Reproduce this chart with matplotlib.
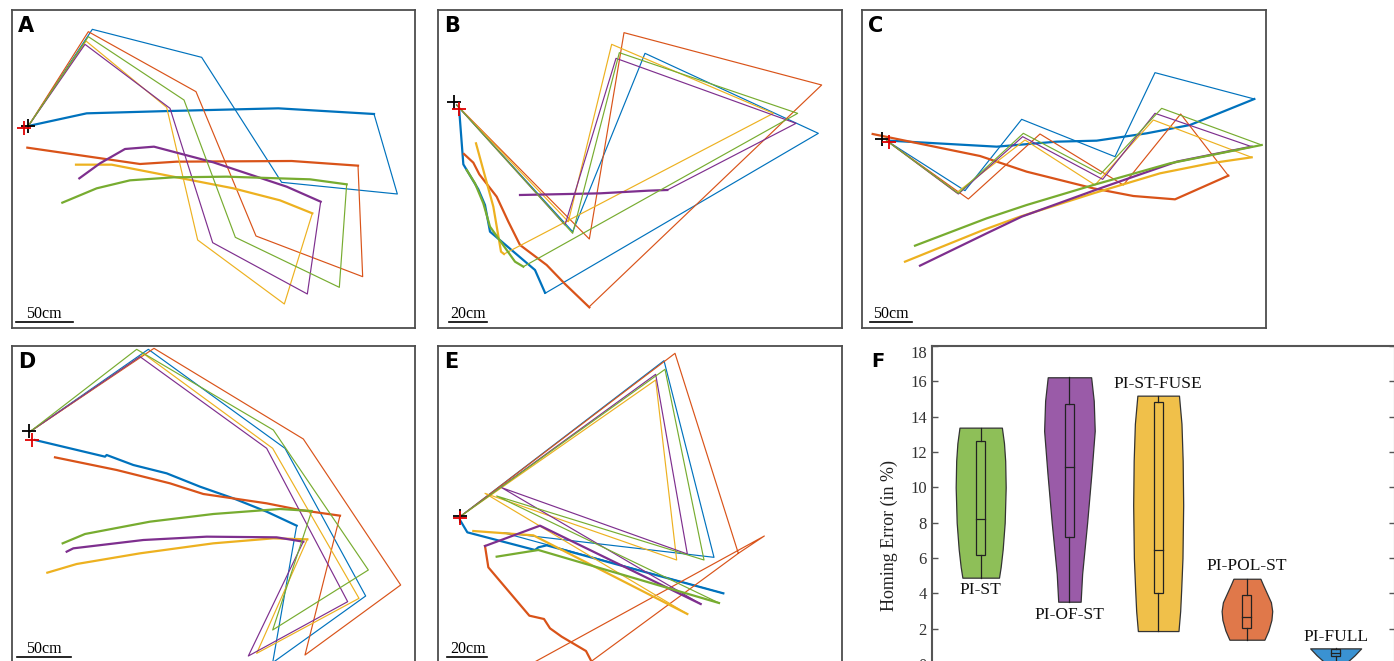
import matplotlib.pyplot as plt
from matplotlib.patches import Rectangle

plt.rcParams['font.family'] = ['Liberation Serif', 'DejaVu Serif']

W, H = 1394, 661  # figure size in px

# blue, orange, yellow, purple, green (one trajectory per agent)
agent_colors = ['#0072BD', '#D95319', '#EDB120', '#7E2F8E', '#77AC30']

# trajectories, in picture units (3 units = 1 px)
# *_out = outbound route (thin), *_ret = homing route (thick)
A_out = [
    [(85, 378), (277, 88), (605, 172), (845, 547), (1192, 582), (1122, 342)],
    [(85, 378), (265, 95), (588, 275), (768, 708), (1088, 830), (1074, 497)],
    [(85, 378), (258, 123), (500, 322), (593, 720), (853, 912), (937, 640)],
    [(85, 378), (255, 133), (510, 325), (638, 728), (922, 882), (962, 605)],
    [(85, 378), (265, 110), (552, 300), (706, 712), (1018, 862), (1040, 553)],
]
A_ret = [
    [(1122, 342), (835, 325), (508, 333), (260, 340), (85, 378)],
    [(1074, 497), (875, 483), (530, 485), (420, 492), (82, 443)],
    [(937, 640), (840, 601), (700, 565), (520, 530), (335, 494), (228, 494)],
    [(962, 605), (860, 560), (640, 487), (462, 440), (375, 447), (300, 490), (238, 535)],
    [(1040, 553), (930, 538), (680, 530), (520, 532), (390, 541), (290, 565), (187, 608)],
]

B_out = [
    [(80, 315), (428, 695), (645, 160), (1165, 400), (345, 880)],
    [(80, 315), (478, 717), (582, 98), (1175, 255), (478, 920)],
    [(80, 315), (415, 665), (545, 133), (1030, 340), (222, 762)],
    [(80, 315), (405, 675), (558, 175), (1098, 370), (712, 570)],
    [(80, 315), (428, 700), (568, 158), (1103, 340), (280, 800)],
]
B_ret = [
    [(345, 878), (315, 810), (180, 695), (165, 615), (145, 568), (100, 493), (88, 335)],
    [(478, 922), (405, 852), (350, 795), (270, 735), (235, 665), (200, 590), (148, 523), (130, 488), (102, 462)],
    [(222, 762), (213, 755), (190, 620), (138, 430)],
    [(712, 570), (655, 572), (510, 580), (270, 585)],
    [(280, 800), (255, 785), (180, 680), (160, 610), (135, 550), (110, 510)],
]

C_out = [
    [(80, 422), (315, 572), (485, 358), (765, 470), (885, 218), (1183, 297)],
    [(80, 422), (325, 597), (540, 402), (790, 555), (962, 342), (1105, 527)],
    [(80, 422), (290, 578), (495, 420), (705, 555), (880, 360), (1175, 472)],
    [(80, 422), (295, 582), (488, 410), (728, 538), (885, 340), (1175, 440)],
    [(80, 422), (295, 580), (490, 400), (722, 522), (905, 325), (1205, 435)],
]
C_ret = [
    [(1183, 297), (990, 375), (860, 400), (710, 422), (590, 425), (410, 440), (88, 422)],
    [(1105, 527), (945, 598), (820, 588), (700, 565), (500, 515), (360, 468), (38, 402)],
    [(1175, 472), (1050, 490), (900, 520), (700, 580), (480, 650), (370, 690), (135, 785)],
    [(1175, 440), (950, 485), (720, 565), (485, 650), (380, 700), (180, 797)],
    [(1205, 435), (930, 490), (700, 555), (500, 615), (380, 655), (165, 737)],
]

D_out = [
    [(90, 275), (445, 28), (855, 325), (1097, 768), (818, 968), (890, 557)],
    [(90, 275), (462, 25), (910, 297), (1202, 735), (915, 945), (1020, 527)],
    [(90, 275), (432, 42), (818, 325), (1077, 775), (770, 940), (922, 598)],
    [(90, 275), (420, 50), (800, 325), (1043, 785), (745, 948), (910, 605)],
    [(90, 275), (410, 28), (820, 270), (1105, 690), (818, 870), (935, 513)],
]
D_ret = [
    [(890, 557), (800, 515), (700, 475), (600, 440), (500, 400), (400, 375), (320, 345), (315, 350), (105, 300)],
    [(1020, 527), (900, 510), (800, 490), (610, 462), (510, 430), (350, 390), (165, 352)],
    [(922, 598), (820, 595), (640, 610), (420, 640), (230, 672), (142, 698)],
    [(910, 605), (830, 592), (620, 590), (430, 600), (220, 625), (200, 635)],
    [(935, 513), (840, 507), (640, 522), (450, 545), (255, 582), (188, 610)],
]

E_out = [
    [(90, 530), (702, 62), (852, 652), (220, 578), (880, 760)],
    [(90, 530), (735, 40), (925, 640), (1003, 588), (270, 990), (435, 1000), (925, 640)],
    [(90, 530), (677, 120), (740, 660), (165, 460), (772, 822)],
    [(90, 530), (677, 103), (772, 642), (215, 443), (812, 792)],
    [(90, 530), (705, 88), (822, 660), (200, 468), (867, 789)],
]
E_ret = [
    [(880, 760), (350, 616), (325, 622), (315, 630), (112, 577), (90, 540)],
    [(165, 618), (175, 682), (298, 827), (342, 837), (360, 865), (395, 890), (468, 933), (490, 975)],
    [(772, 822), (310, 586), (130, 573)],
    [(812, 792), (330, 557), (165, 618)],
    [(867, 789), (325, 630), (200, 650)],
]

# panel layout: letter, px origin of picture units, frame box, home, black +, red +,
# scale bar cm, bar (x0, x1, y), bar label baseline (x, y), routes
panels = [
    ('A', (0, 0), (35, 30, 1245, 985), (85, 378), (85, 378), (72, 385), 50, (48, 218, 965), (133, 953), A_out, A_ret),
    ('B', (430, 0), (25, 30, 1235, 985), (80, 318), (72, 305), (86, 328), 20, (58, 170, 965), (115, 953), B_out, B_ret),
    ('C', (860, 0), (5, 30, 1218, 985), (80, 422), (65, 418), (88, 425), 50, (30, 155, 965), (92, 953), C_out, C_ret),
    ('D', (0, 340), (35, 18, 1245, 972), (90, 275), (88, 272), (95, 300), 50, (52, 212, 952), (133, 940), D_out, D_ret),
    ('E', (430, 340), (25, 18, 1235, 972), (90, 530), (90, 528), (90, 535), 20, (52, 172, 952), (115, 940), E_out, E_ret),
]

# panel F: homing error per method
methods = ['PI-ST', 'PI-OF-ST', 'PI-ST-FUSE', 'PI-POL-ST', 'PI-FULL']
violin_colors = ['#8EBF58', '#9A5BA8', '#F0C04A', '#E0784A', '#3A92D2']
# violin outlines: error values and half widths (px)
st_y = [4.89, 5.5, 6.5, 8.0, 10.0, 11.5, 12.5, 13.38]
st_w = [18.3, 20, 22, 24, 25, 24.5, 23.3, 21.2]
of_y = [3.53, 5.1, 8.0, 10.8, 13.2, 14.9, 16.23]
of_w = [11.2, 12.7, 17.7, 22, 25.3, 24.3, 21.7]
fuse_y = [1.87, 3.0, 4.2, 6.0, 9.0, 11.5, 13.6, 15.19]
fuse_w = [20.3, 22, 23, 24.3, 25, 24.5, 23.3, 20.8]
pol_y = [1.38, 1.9, 2.5, 3.0, 3.5, 4.0, 4.5, 4.83]
pol_w = [17.5, 21.5, 24.5, 25.3, 24, 20, 16, 13.5]
full_y = [-0.6, -0.2, 0.17, 0.5, 0.89]
full_w = [3, 7, 12.5, 19, 25.5]
q1 = [6.17, 7.17, 4.0, 2.02, 0.45]
medians = [8.19, 11.17, 6.43, 2.68, 0.62]
q3 = [12.62, 14.70, 14.81, 3.91, 0.83]
label_y = [4.19, 2.77, 15.83, 5.57, 1.55]


def fig_rect(x0, y0, x1, y1):
    return [x0 / W, 1 - y1 / H, (x1 - x0) / W, (y1 - y0) / H]


def to_cm(pts, home, k):
    return [(p[0] - home[0]) * k for p in pts], [(home[1] - p[1]) * k for p in pts]


fig = plt.figure(figsize=(W / 100, H / 100), dpi=100)

for (letter, org, box, home, black, red, bar_cm, bar, bar_txt, outs, rets) in panels:
    k = bar_cm / (bar[1] - bar[0])
    bx0, by0, bx1, by1 = box
    ax = fig.add_axes(fig_rect(org[0] + bx0 / 3, org[1] + by0 / 3, org[0] + bx1 / 3, org[1] + by1 / 3))
    ax.set_xlim((bx0 - home[0]) * k, (bx1 - home[0]) * k)
    ax.set_ylim((home[1] - by1) * k, (home[1] - by0) * k)
    ax.set_xticks([])
    ax.set_yticks([])
    for s in ax.spines.values():
        s.set_color('#4d4d4d')
        s.set_linewidth(1.3)
    for c, o, r in zip(agent_colors, outs, rets):
        x, y = to_cm(o, home, k)
        ax.plot(x, y, color=c, lw=0.85)
        x, y = to_cm(r, home, k)
        ax.plot(x, y, color=c, lw=1.6)
    x, y = to_cm([black], home, k)
    ax.plot(x, y, '+', color='black', ms=10, mew=1.3)
    x, y = to_cm([red], home, k)
    ax.plot(x, y, '+', color='#E00000', ms=10, mew=1.3)
    # scale bar
    x, y = to_cm([(bar[0], bar[2]), (bar[1], bar[2])], home, k)
    ax.plot(x, y, color='black', lw=1.2, clip_on=False)
    x, y = to_cm([bar_txt], home, k)
    ax.text(x[0], y[0], '%dcm' % bar_cm, ha='center', va='baseline', fontsize=11.5)
    fig.text((org[0] + bx0 / 3 + 6) / W, 1 - (org[1] + by0 / 3 + 6) / H, letter,
             family='DejaVu Sans', fontweight='bold', fontsize=15, ha='left', va='top')

# panel F
axf = fig.add_axes(fig_rect(931.7, 346, 1394.5, 690.6))
axf.set_xlim(0.448, 5.663)
axf.set_ylim(-1.5, 18)
px_per_x = 88.75
outlines = [(st_y, st_w), (of_y, of_w), (fuse_y, fuse_w), (pol_y, pol_w), (full_y, full_w)]
for i, (vy, vw) in enumerate(outlines):
    pos = i + 1
    hw = [w / px_per_x for w in vw]
    axf.fill_betweenx(vy, [pos - w for w in hw], [pos + w for w in hw],
                      facecolor=violin_colors[i], edgecolor='#333333', lw=0.9, zorder=2)
    bw = 4.5 / px_per_x
    axf.plot([pos, pos], [vy[0], q1[i]], color='#222222', lw=0.9, zorder=3)
    axf.plot([pos, pos], [q3[i], vy[-1]], color='#222222', lw=0.9, zorder=3)
    axf.add_patch(Rectangle((pos - bw, q1[i]), 2 * bw, q3[i] - q1[i], fill=False,
                            edgecolor='#222222', lw=0.9, zorder=3))
    axf.plot([pos - bw, pos + bw], [medians[i], medians[i]], color='#222222', lw=0.9, zorder=3)
    axf.text(pos, label_y[i], methods[i], ha='center', va='center', fontsize=12.5, color='#111111')

axf.set_xticks([])
axf.set_yticks(range(0, 19, 2))
axf.tick_params(axis='y', direction='in', length=4, width=1, left=True, right=True,
                labelsize=12, color='#555555', labelcolor='#333333')
axf.get_yticklabels()[-1].set_va('top')
for side in ['left', 'top', 'right', 'bottom']:
    axf.spines[side].set_color('#555555')
    axf.spines[side].set_linewidth(1.5)
fig.text(889 / W, 1 - 535.5 / H, 'Homing Error (in %)', rotation=90, ha='center', va='center',
         fontsize=13, color='#222222')
fig.text(871.7 / W, 1 - 352 / H, 'F', family='DejaVu Sans', fontweight='bold', fontsize=14,
         ha='left', va='top')

fig.savefig('out.png', dpi=100)
